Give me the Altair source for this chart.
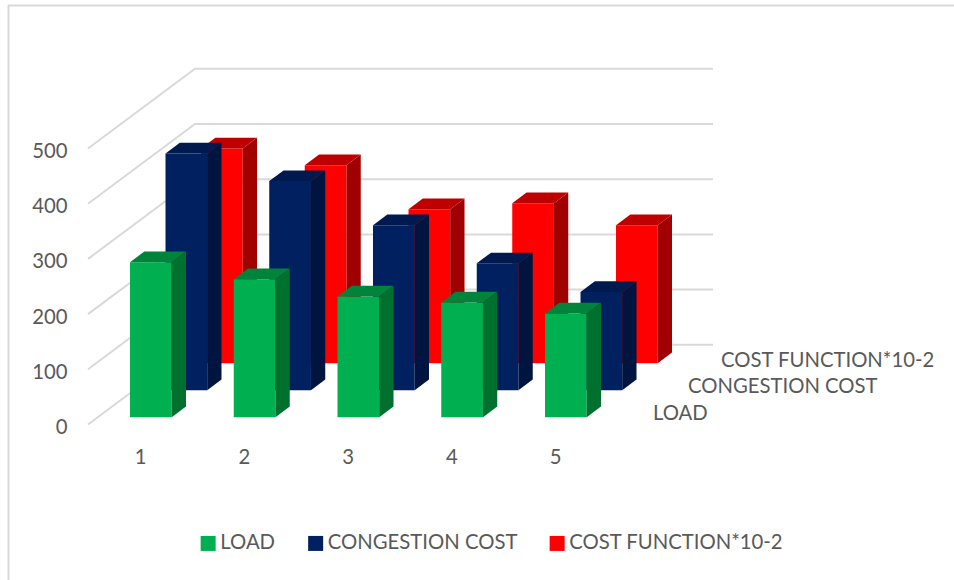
import altair as alt
import pandas as pd

# Series, back row first so nearer rows paint over farther ones
CATEGORIES = [1, 2, 3, 4, 5]
LOAD = [281, 250, 219, 208, 188]
CONGESTION_COST = [429, 379, 299, 230, 178]
COST_FUNCTION = [389, 359, 279, 290, 250]
SERIES_NAMES = ["LOAD", "CONGESTION COST", "COST FUNCTION*10-2"]
SERIES_VALUES = [LOAD, CONGESTION_COST, COST_FUNCTION]
FRONT_COLORS = ["#00B050", "#002060", "#FF0000"]
SIDE_COLORS = ["#00702F", "#001440", "#A00000"]
TOP_COLORS = ["#00843B", "#001A50", "#BF0000"]
AXIS_TICKS = [0, 100, 200, 300, 400, 500]

# Pixel size of one unit on each scale
PX_PER_CATEGORY = 103.75
PX_PER_VALUE = 0.552
W, H = 954, 580
X1_PX, Y0_PX = 140.0, 424.5

def dx(px):
    return px / PX_PER_CATEGORY

def dy(px):
    return px / PX_PER_VALUE

x_scale = alt.Scale(domain=[1 - dx(X1_PX), 1 + dx(W - X1_PX)], range=[0, W], nice=False, zero=False)
y_scale = alt.Scale(domain=[-dy(H - Y0_PX), dy(Y0_PX)], range=[H, 0], nice=False, zero=False)

# Oblique projection of the bars
BAR_W = dx(41.7)
BAR_LEFT = dx(-10)
BASE = dy(7.2)
ROW_X = dx(35.5)
ROW_Y = dy(27)
EXTRUDE_X = dx(14.3)
EXTRUDE_Y = dy(10.7)

fronts, sides, tops = [], [], []
for row, (name, values) in enumerate(zip(SERIES_NAMES, SERIES_VALUES)):
    for cat, v in zip(CATEGORIES, values):
        x0 = cat + BAR_LEFT + row * ROW_X
        x1 = x0 + BAR_W
        y0 = BASE + row * ROW_Y
        y1 = y0 + v
        fronts.append(dict(row=row, series=name, x=x0, x2=x1, y=y0, y2=y1))
        sides += [
            dict(row=row, id=cat, shade=SIDE_COLORS[row], x=x1, y=y0, y2=y1),
            dict(row=row, id=cat, shade=SIDE_COLORS[row], x=x1 + EXTRUDE_X, y=y0 + EXTRUDE_Y, y2=y1 + EXTRUDE_Y),
        ]
        tops += [
            dict(row=row, id=cat, shade=TOP_COLORS[row], x=x0, x2=x1, y=y1),
            dict(row=row, id=cat, shade=TOP_COLORS[row], x=x0 + EXTRUDE_X, x2=x1 + EXTRUDE_X, y=y1 + EXTRUDE_Y),
        ]
fronts, sides, tops = map(pd.DataFrame, (fronts, sides, tops))

# Gridlines: up the side wall, then along the back wall
WALL_FRONT_X = 1 + dx(88 - X1_PX)
WALL_BACK_X = 1 + dx(195 - X1_PX)
WALL_END_X = 1 + dx(713 - X1_PX)
WALL_RISE = dy(424.5 - 344.8)
grid = pd.DataFrame([
    dict(tick=t, step=i, x=x, y=t + r)
    for t in AXIS_TICKS
    for i, (x, r) in enumerate([(WALL_FRONT_X, 0), (WALL_BACK_X, WALL_RISE), (WALL_END_X, WALL_RISE)])
])

font = "Lato"
ink = "#595959"
SIZE = 20.3

# Shared position channels carry the numeric axes; layers merge them into one pair
X = alt.X("x:Q", scale=x_scale, title=None,
          axis=alt.Axis(values=CATEGORIES, orient="bottom", offset=-135, domain=False, ticks=False, grid=False,
                        labelFont=font, labelFontSize=SIZE, labelColor=ink, format="d", labelPadding=2))
Y = alt.Y("y:Q", scale=y_scale, title=None,
          axis=alt.Axis(values=AXIS_TICKS, orient="left", offset=-67, domain=False, ticks=False, grid=False,
                        labelFont=font, labelFontSize=SIZE, labelColor=ink, format="d", labelPadding=0,
                        labelOffset=3))
X2 = alt.X2("x2:Q")
Y2 = alt.Y2("y2:Q")

grid_layer = alt.Chart(grid).mark_line(color="#D9D9D9", strokeWidth=2).encode(
    x=X, y=Y, detail="tick:N", order="step:Q")

legend = alt.Legend(
    title=None, orient="none", legendX=198, legendY=533, direction="horizontal", columns=3,
    symbolType="square", symbolSize=225, symbolStrokeWidth=0, labelFont=font, labelFontSize=SIZE, labelColor=ink,
    labelOffset=2, columnPadding=29.5, labelLimit=400,
)
color = alt.Color("series:N", scale=alt.Scale(domain=SERIES_NAMES, range=FRONT_COLORS), legend=legend)

bar_layers = []
for row in [2, 1, 0]:
    bar_layers += [
        alt.Chart(fronts[fronts.row == row]).mark_rect().encode(x=X, x2=X2, y=Y, y2=Y2, color=color),
        alt.Chart(sides[sides.row == row]).mark_area(interpolate="linear").encode(
            x=X, y=Y, y2=Y2, detail="id:N", fill=alt.Fill("shade:N", scale=None)),
        alt.Chart(tops[tops.row == row]).mark_area(orient="horizontal", interpolate="linear").encode(
            x=X, x2=X2, y=Y, detail="id:N", fill=alt.Fill("shade:N", scale=None)),
    ]

# Row names beside the depth axis
depth_labels = pd.DataFrame({
    "name": SERIES_NAMES,
    "x": [1 + dx(px - X1_PX) for px in (653, 688, 721)],
    "y": [dy(Y0_PX - px) for px in (414, 387, 361)],
})
depth_text = alt.Chart(depth_labels).mark_text(
    font=font, fontSize=SIZE, color=ink, align="left", baseline="middle").encode(x=X, y=Y, text="name:N")

# Outer frame along the top and left edges
frame_top = alt.Chart(pd.DataFrame({"x": [1 + dx(8 - X1_PX)], "x2": [1 + dx(954 - X1_PX)], "y": [dy(Y0_PX - 5.5)]})).mark_rule(
    color="#D9D9D9", strokeWidth=2).encode(x=X, x2=X2, y=Y)
frame_left = alt.Chart(pd.DataFrame({"x": [1 + dx(8.5 - X1_PX)], "y": [dy(Y0_PX - 5)], "y2": [dy(Y0_PX - 580)]})).mark_rule(
    color="#D9D9D9", strokeWidth=2).encode(x=X, y=Y, y2=Y2)

chart = alt.layer(frame_top, frame_left, grid_layer, *bar_layers, depth_text).properties(
    width=W, height=H, padding=0, autosize=alt.AutoSizeParams(type="none"),
    background="white",
).configure_view(stroke=None)

chart.save("out.html", embed_options={"renderer": "svg", "actions": False})
